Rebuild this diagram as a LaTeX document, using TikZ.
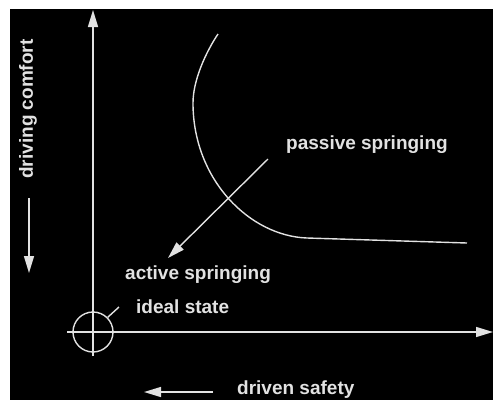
\documentclass[tikz,border=0pt]{standalone}
\usepackage{fontspec}
\setmainfont{Liberation Sans}
\usetikzlibrary{arrows.meta}
\definecolor{chartgray}{HTML}{E2E2E2}

\begin{document}
\begin{tikzpicture}[x=1pt, y=-1pt,
    line/.style={draw=chartgray, line width=1.4pt},
    arr/.style={line, -{Triangle[length=17pt, width=10pt]}},
    lbl/.style={text=chartgray, font=\fontsize{19}{23}\selectfont\bfseries, inner sep=0pt},
]
    \useasboundingbox (0,0) rectangle (493,400);
    \fill[white] (0,0) rectangle (493,400);
    \fill[black] (10,9) rectangle (493,400);

    % axes
    \coordinate (origin) at (93,332);
    \coordinate (ybottom) at (93,356);
    \coordinate (ytop) at (93,10);
    \coordinate (xleft) at (67,332);
    \coordinate (xright) at (493,332);
    \draw[arr] (ybottom) -- (ytop);
    \draw[arr] (xleft) -- (xright);

    % ideal state
    \node[line, circle, minimum size=40pt, inner sep=0pt] (ideal) at (origin) {};
    \coordinate (idealtag) at (119,307);
    \draw[line] (ideal.45) -- (idealtag);
    \node[lbl, anchor=west] (idealtxt) at (136,307) {ideal state};

    % passive curve
    \draw[line] (218,34) .. controls (206,52) and (193,80) .. (193,103)
        .. controls (193,180) and (250,236) .. (307,238) -- (467,243);

    % passive -> active
    \coordinate (pstart) at (268,159);
    \coordinate (ptip) at (168,258);
    \draw[arr] (pstart) -- (ptip);
    \node[lbl, anchor=west] (passive) at (286,145) {passive springing};
    \node[lbl, anchor=west] (active) at (125,275) {active springing};

    % axis labels
    \node[lbl, rotate=90] (comfort) at (28,109) {driving comfort};
    \coordinate (cstart) at (29,198);
    \coordinate (cend) at (29,273);
    \draw[arr] (cstart) -- (cend);

    \node[lbl, anchor=west] (safety) at (237,390) {driven safety};
    \coordinate (sstart) at (213,392);
    \coordinate (send) at (144,392);
    \draw[arr] (sstart) -- (send);
\end{tikzpicture}
\end{document}
